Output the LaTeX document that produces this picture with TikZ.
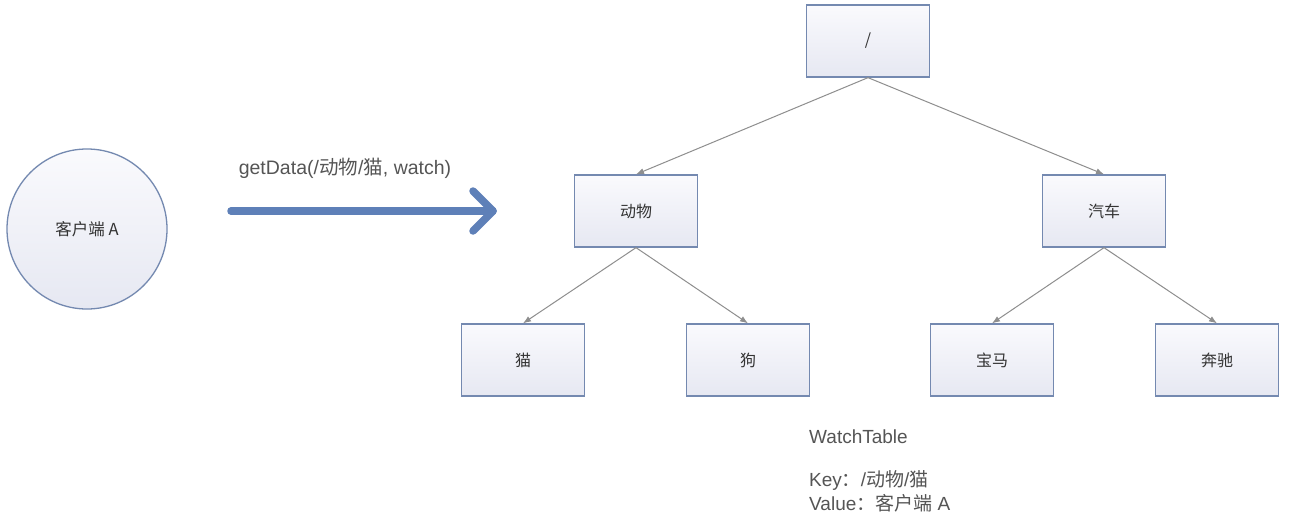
\documentclass[tikz,border=0pt]{standalone}
\usepackage{fontspec}
\setmainfont{Liberation Sans}
\newfontfamily\cjk{Noto Sans CJK SC}
\usetikzlibrary{arrows.meta}
\definecolor{boxborder}{HTML}{7489B0}
\definecolor{boxtop}{HTML}{FAFAFD}
\definecolor{boxbot}{HTML}{E6E8F2}
\definecolor{bigarrow}{HTML}{5E80B8}
\definecolor{edgegray}{HTML}{8E8E8E}
\definecolor{txtgray}{HTML}{555555}
\tikzset{
  treebox/.style={draw=boxborder, line width=1.3pt, top color=boxtop, bottom color=boxbot,
    minimum width=123pt, minimum height=72pt, inner sep=0pt, font=\cjk\fontsize{16}{18}\selectfont, text=black!80},
  client/.style={circle, draw=boxborder, line width=1.3pt, top color=boxtop, bottom color=boxbot,
    minimum size=160pt, inner sep=0pt, font=\cjk\fontsize{16.5}{18}\selectfont, text=black!80},
  edge/.style={draw=edgegray, line width=1pt, -{Latex[length=8pt,width=6pt]}},
  big/.style={draw=bigarrow, line width=7.5pt, line cap=round, line join=round},
  note/.style={text=txtgray, font=\fontsize{19}{21}\selectfont, anchor=west, inner sep=0pt}
}
\begin{document}
\begin{tikzpicture}[x=1pt,y=-1pt]
\useasboundingbox (0,0) rectangle (1291,519);
\fill[white] (0,0) rectangle (1291,519);
\node[client] (ca) at (87,229) {客户端 A};
\node[treebox] (root) at (868,41) {/};
\node[treebox] (dw) at (636,211) {动物};
\node[treebox] (qc) at (1104,211) {汽车};
\node[treebox] (mao) at (523,360) {猫};
\node[treebox] (gou) at (748,360) {狗};
\node[treebox] (bm) at (992,360) {宝马};
\node[treebox] (bc) at (1217,360) {奔驰};
\draw[edge] (root.south) -- (dw.north);
\draw[edge] (root.south) -- (qc.north);
\draw[edge] (dw.south) -- (mao.north);
\draw[edge] (dw.south) -- (gou.north);
\draw[edge] (qc.south) -- (bm.north);
\draw[edge] (qc.south) -- (bc.north);
\coordinate (as) at (231,211);
\coordinate (ae) at (493,211);
\coordinate (au) at (473,191);
\coordinate (ad) at (473,231);
\draw[big] (as) -- (ae);
\draw[big] (au) -- (ae) -- (ad);
\node[text=txtgray, font=\fontsize{19.5}{21}\selectfont, inner sep=0pt] (lbl) at (345,168) {getData(/{\cjk 动物}/{\cjk 猫}, watch)};
\node[note] (wt) at (809,437) {WatchTable};
\node[note] (key) at (809,480) {Key{\cjk ：}/{\cjk 动物}/{\cjk 猫}};
\node[note] (val) at (809,503) {Value{\cjk ：}{\cjk 客户端} A};
\end{tikzpicture}
\end{document}
